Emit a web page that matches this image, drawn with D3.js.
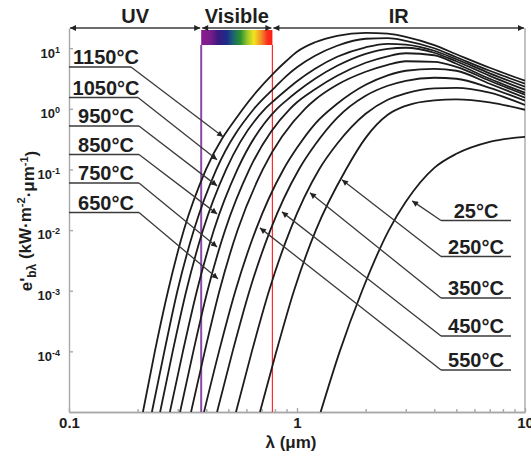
<!DOCTYPE html>
<html>
<head>
<meta charset="utf-8">
<script src="https://cdn.jsdelivr.net/npm/d3@7/dist/d3.min.js"></script>
<style>
    body { margin: 0; background: #fff; }
    svg text { font-family: Arial, "Liberation Sans", sans-serif; font-weight: bold; fill: #1e1e1e; }
    .axis path, .axis line { stroke: #a8a8a8; stroke-width: 1.4; }
    .curve { fill: none; stroke: #1c1c1c; stroke-width: 1.8; }
    .pointer { stroke: #3a3a3a; stroke-width: 1.3; fill: none; }
</style>
</head>
<body>
<div id="chart"></div>
<script>
"use strict";

// Rising side: wavelength (um) at which each curve crosses these levels.
var riseLevels = [1e-5, 1e-4, 1e-3, 1e-2, 1e-1, 1];
// Upper / falling side: e' read at these wavelengths (each list ends at 10 um).
var fallLambda = [0.8, 0.9, 1, 1.2, 1.5, 2, 2.5, 3, 4, 5, 7, 10];

var rise1150 = [0.211, 0.238, 0.272, 0.319, 0.399, 0.580];
var fall1150 = [4.08, 6.20, 8.72, 12.5, 16.0, 17.9, 17.3, 15.4, 11.2, 7.93, 4.75, 2.90];
var rise1050 = [0.231, 0.262, 0.299, 0.353, 0.443, 0.648];
var fall1050 = [2.26, 3.50, 4.84, 7.49, 10.96, 14.3, 14.6, 13.2, 9.96, 7.08, 4.24, 2.59];
var rise950 = [0.251, 0.285, 0.327, 0.387, 0.489, 0.724];
var fall950 = [1.41, 2.06, 2.84, 4.57, 7.21, 10.35, 11.8, 11.4, 9.06, 6.56, 3.85, 2.31];
var rise850 = [0.277, 0.316, 0.364, 0.432, 0.548, 0.817];
var fall850 = [1.38, 1.91, 3.13, 5.12, 8.08, 9.77, 10.15, 8.40, 6.08, 3.50, 2.06];
var rise750 = [0.307, 0.351, 0.405, 0.484, 0.618, 0.932];
var fall750 = [1.28, 2.10, 3.50, 5.74, 7.35, 8.24, 7.64, 5.53, 3.13, 1.84];
var rise650 = [0.343, 0.394, 0.457, 0.549, 0.708, 1.084];
var fall650 = [1.41, 2.49, 4.08, 5.32, 6.08, 5.96, 4.93, 2.90, 1.70];
var rise550 = [0.391, 0.455, 0.537, 0.659, 0.872];
var fall550 = [0.227, 0.566, 1.21, 2.49, 3.57, 4.24, 4.57, 4.24, 2.59, 1.52];
var rise450 = [0.446, 0.522, 0.619, 0.764, 1.019];
var fall450 = [0.255, 0.710, 1.64, 2.40, 2.90, 3.25, 3.13, 2.22, 1.36];
var rise350 = [0.540, 0.634, 0.754, 0.933, 1.25];
var fall350 = [0.265, 0.827, 1.41, 1.80, 2.18, 2.22, 1.84, 1.16];
var rise250 = [0.688, 0.812, 0.970, 1.21, 1.64];
var fall250 = [0.332, 0.796, 1.12, 1.38, 1.43, 1.28, 0.963];
var rise25 = [1.27, 1.54, 1.93, 2.53];
var fall25 = [0.0292, 0.106, 0.181, 0.285, 0.345];

var temps = ["1150°C", "1050°C", "950°C", "850°C", "750°C", "650°C",
             "550°C", "450°C", "350°C", "250°C", "25°C"];
// point on each curve that its label arrow touches
var tipLambda = [0.474, 0.446, 0.446, 0.446, 0.446, 0.450, 0.688, 0.859, 1.140, 1.575, 3.20];
var tipValue = [0.345, 0.144, 0.0536, 0.0185, 0.00528, 0.00157, 0.01087, 0.01997, 0.0411, 0.0674, 0.0303];

var bands = ["UV", "Visible", "IR"];
var bandEdges = [0.1, 0.38, 0.78, 10];
var xTicks = [0.1, 1, 10];
var yTicks = [1e1, 1e0, 1e-1, 1e-2, 1e-3, 1e-4];

var margin = {top: 28, right: 6, bottom: 44, left: 69},
    width = 531 - margin.left - margin.right,
    height = 456 - margin.top - margin.bottom;

var xScale = d3.scaleLog().domain([0.1, 10]).range([0, width]),
    yScale = d3.scaleLog().domain([1e-5, 21.5]).range([height, 0]);

var curves = [
    [rise1150, fall1150], [rise1050, fall1050], [rise950, fall950],
    [rise850, fall850], [rise750, fall750], [rise650, fall650],
    [rise550, fall550], [rise450, fall450], [rise350, fall350],
    [rise250, fall250], [rise25, fall25]
].map(function(c) {
    var pts = c[0].map(function(l, i) { return [l, riseLevels[i]]; });
    var lam = fallLambda.slice(fallLambda.length - c[1].length);
    return pts.concat(c[1].map(function(v, i) { return [lam[i], v]; }));
});

var svg = d3.select("#chart").append("svg")
    .attr("width", 531)
    .attr("height", 456);

var defs = svg.append("defs");
defs.append("clipPath").attr("id", "plotclip")
    .append("rect").attr("width", width).attr("height", height);
defs.append("marker")
    .attr("id", "head")
    .attr("viewBox", "0 0 10 10")
    .attr("refX", 10).attr("refY", 5)
    .attr("markerUnits", "userSpaceOnUse")
    .attr("markerWidth", 8).attr("markerHeight", 6)
    .attr("orient", "auto-start-reverse")
    .append("path").attr("d", "M0,0L10,5L0,10z").attr("fill", "#222");

var grad = defs.append("linearGradient").attr("id", "spectrum");
[["0", "#8c1c8c"], ["0.13", "#7a1c8c"], ["0.24", "#3a1a7c"], ["0.36", "#1c2c8c"],
 ["0.46", "#1c6a6a"], ["0.55", "#2a9030"], ["0.65", "#9cc82a"], ["0.74", "#f4e41c"],
 ["0.84", "#f49028"], ["0.93", "#f83020"], ["1", "#ff1c10"]].forEach(function(s) {
    grad.append("stop").attr("offset", s[0]).attr("stop-color", s[1]);
});

var g = svg.append("g")
    .attr("transform", "translate(" + margin.left + "," + margin.top + ")");

// Axes
var xAxis = d3.axisBottom(xScale).tickValues(xTicks)
    .tickSize(-4).tickSizeOuter(0).tickPadding(5)
    .tickFormat(d3.format(""));
var xMinor = d3.axisBottom(xScale)
    .tickValues([0.2, 0.3, 0.4, 0.5, 0.6, 0.7, 0.8, 0.9, 2, 3, 4, 5, 6, 7, 8, 9])
    .tickSize(-3).tickSizeOuter(0).tickFormat("");
var yAxis = d3.axisLeft(yScale).tickValues(yTicks)
    .tickSize(-4).tickSizeOuter(0).tickPadding(9)
    .tickFormat("");

g.append("g").attr("class", "x axis")
    .attr("transform", "translate(0," + height + ")")
    .call(xMinor);
g.append("g").attr("class", "x axis")
    .attr("transform", "translate(0," + height + ")")
    .call(xAxis)
    .selectAll("text").style("font-size", "15px");

var yg = g.append("g").attr("class", "y axis").call(yAxis);
yg.selectAll(".tick text")
    .attr("dy", "0.68em")
    .style("font-size", "13px")
    .each(function(d) {
        var t = d3.select(this);
        t.append("tspan").text("10");
        t.append("tspan").attr("dy", "-0.55em").style("font-size", "9px")
            .text(Math.round(Math.log10(d)));
    });
g.append("line").attr("class", "frame")
    .attr("x1", width).attr("x2", width).attr("y1", 0).attr("y2", height)
    .attr("stroke", "#a8a8a8").attr("stroke-width", 1.4);

// Visible band
var xv0 = xScale(bandEdges[1]), xv1 = xScale(bandEdges[2]);
g.append("rect")
    .attr("x", xv0).attr("y", 2).attr("width", xv1 - xv0).attr("height", 15)
    .attr("fill", "url(#spectrum)");
g.append("line")
    .attr("x1", xv0).attr("x2", xv0).attr("y1", 17).attr("y2", height)
    .attr("stroke", "#8a4aa8").attr("stroke-width", 2);
g.append("line")
    .attr("x1", xv1).attr("x2", xv1).attr("y1", 17).attr("y2", height)
    .attr("stroke", "#ff2a2a").attr("stroke-width", 1.2);

// Band arrows and titles
bands.forEach(function(b, i) {
    var a = xScale(bandEdges[i]) + 1, c = xScale(bandEdges[i + 1]) - 1;
    g.append("line").attr("class", "pointer")
        .attr("x1", a).attr("x2", c).attr("y1", 0).attr("y2", 0)
        .attr("stroke", "#666")
        .attr("marker-start", "url(#head)").attr("marker-end", "url(#head)");
    g.append("text")
        .attr("x", (a + c) / 2).attr("y", -5)
        .attr("text-anchor", "middle")
        .style("font-size", "20px")
        .text(b);
});

// Curves
var line = d3.line()
    .x(function(d) { return xScale(d[0]); })
    .y(function(d) { return yScale(d[1]); })
    .curve(d3.curveMonotoneX);

g.append("g")
    .attr("clip-path", "url(#plotclip)")
    .selectAll(".curve")
    .data(curves)
    .enter()
    .append("path")
    .attr("class", "curve")
    .attr("d", line);

// Temperature labels: left column for hot curves, right column for the rest
var leftRows = [39, 69.5, 98, 126.5, 155, 184.5],
    leftEnds = [62, 69, 70, 70, 70, 70],
    rightRows = [342, 308, 270, 228.5, 192.5];

temps.forEach(function(t, i) {
    var tx = xScale(tipLambda[i]), ty = yScale(tipValue[i]);
    var cx, x0, x1, y, start;
    if (i < 6) {
        cx = 37; x0 = 0; x1 = leftEnds[i]; y = leftRows[i]; start = x1;
    } else {
        cx = 407; x0 = 372; x1 = 442; y = rightRows[i - 6]; start = x0;
    }
    g.append("line").attr("class", "pointer")
        .attr("x1", x0).attr("x2", x1).attr("y1", y).attr("y2", y);
    g.append("line").attr("class", "pointer")
        .attr("x1", start).attr("y1", y).attr("x2", tx).attr("y2", ty)
        .attr("marker-end", "url(#head)");
    g.append("text")
        .attr("x", cx).attr("y", y - 3)
        .attr("text-anchor", "middle")
        .style("font-size", "20px")
        .text(t);
});

// Axis titles
var yt = g.append("text")
    .attr("transform", "translate(-37," + 193 + ") rotate(-90)")
    .attr("text-anchor", "middle")
    .style("font-size", "17px");
yt.append("tspan").text("e'");
yt.append("tspan").attr("dy", "0.3em").style("font-size", "12px").text("b\u03bb");
yt.append("tspan").attr("dy", "-0.3em").text(" (kW\u00b7m");
yt.append("tspan").attr("dy", "-0.5em").style("font-size", "11px").text("-2");
yt.append("tspan").attr("dy", "0.5em").text("\u00b7\u03bcm");
yt.append("tspan").attr("dy", "-0.5em").style("font-size", "11px").text("-1");
yt.append("tspan").attr("dy", "0.5em").text(")");

g.append("text")
    .attr("x", 222).attr("y", 420)
    .attr("text-anchor", "middle")
    .style("font-size", "17px")
    .text("\u03bb (\u03bcm)");
</script>
</body>
</html>
